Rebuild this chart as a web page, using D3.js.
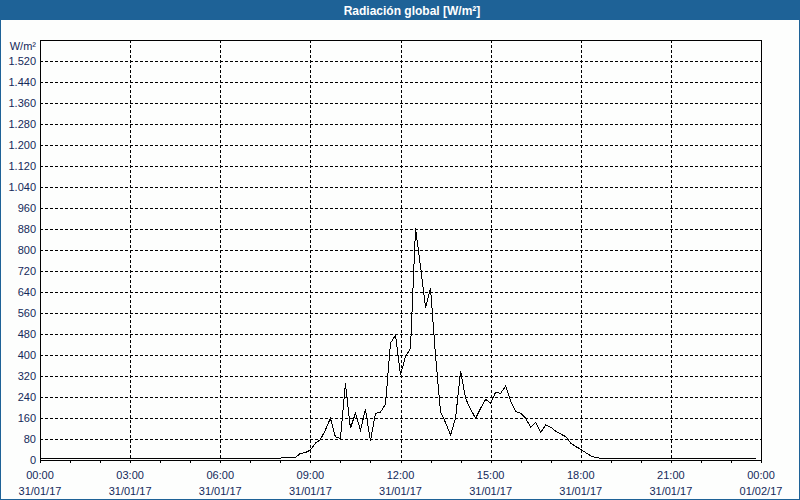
<!DOCTYPE html>
<html><head><meta charset="utf-8">
<script src="https://cdn.jsdelivr.net/npm/d3@7"></script>
<style>
html,body{margin:0;padding:0;background:#fff;}
svg{display:block;}
text{font-family:"Liberation Sans",Arial,sans-serif;}
</style></head>
<body>
<svg id="c" width="800" height="500"></svg>
<script>
// ---- data (10-minute readings, W/m²) ----
const times = ["00:00","08:00","08:10","08:20","08:30","08:40","08:50","09:00","09:10","09:20","09:30","09:40","09:50",
"10:00","10:10","10:20","10:30","10:40","10:50","11:00","11:10","11:20","11:30","11:40","11:50",
"12:00","12:10","12:20","12:30","12:40","12:50","13:00","13:10","13:20","13:30","13:40","13:50",
"14:00","14:10","14:20","14:30","14:40","14:50","15:00","15:10","15:20","15:30","15:40","15:50",
"16:00","16:10","16:20","16:30","16:40","16:50","17:00","17:10","17:20","17:30","17:40","17:50",
"18:00","18:10","18:20","18:30","18:40","23:50"];
const values = [7,7,10,10,10,25,28,38,64,78,114,159,88,
82,292,121,178,114,192,72,178,182,212,445,476,
324,394,425,883,737,580,654,396,183,142,95,160,
340,235,193,159,197,231,216,258,254,282,224,184,
178,159,125,144,105,133,125,110,99,89,64,51,
41,28,16,9,7,7];
const xTickTimes = ["00:00","03:00","06:00","09:00","12:00","15:00","18:00","21:00","00:00"];
const xTickDates = ["31/01/17","31/01/17","31/01/17","31/01/17","31/01/17","31/01/17","31/01/17","31/01/17","01/02/17"];
const yTicks = [0,80,160,240,320,400,480,560,640,720,800,880,960,1040,1120,1200,1280,1360,1440,1520];
const title = "Radiación global [W/m²]";
const unit = "W/m²";

const toMin = s => { const [h,m]=s.split(":").map(Number); return h*60+m; };
const data = times.map((t,i)=>({m:toMin(t), v:values[i]}));

const svg = d3.select("#c");
const L=40, R=761, T=40, B=460;
const x = d3.scaleLinear().domain([0,1440]).range([L,R]);
const y = d3.scaleLinear().domain([0,1600]).range([B,T]);
const navy = "#14295a";

// outer frame + title bar
svg.append("rect").attr("x",0.5).attr("y",0.5).attr("width",799).attr("height",499)
  .attr("fill","#fdfefd").attr("stroke","#1e6297");
svg.append("rect").attr("x",0).attr("y",0).attr("width",800).attr("height",20).attr("fill","#1e6297");
svg.append("text").attr("x",412).attr("y",14.5).attr("text-anchor","middle")
  .attr("fill","#fff").attr("font-weight","bold").attr("font-size","12px").text(title);

// grid
const g = svg.append("g");
g.selectAll("line.hg").data(yTicks.filter(d=>d>0)).join("line")
  .attr("x1",L).attr("x2",R).attr("y1",d=>Math.round(y(d))+0.5).attr("y2",d=>Math.round(y(d))+0.5)
  .attr("stroke","#000").attr("stroke-dasharray","3,2").attr("shape-rendering","crispEdges");
const vIdx = xTickTimes.map((t,i)=>i*180);
g.selectAll("line.vg").data(vIdx.slice(1,-1)).join("line")
  .attr("x1",d=>Math.round(x(d))+0.5).attr("x2",d=>Math.round(x(d))+0.5).attr("y1",T).attr("y2",B)
  .attr("stroke","#000").attr("stroke-dasharray","3,2").attr("shape-rendering","crispEdges");

// minor hour ticks below axis
g.selectAll("line.mt").data(d3.range(0,1441,60)).join("line")
  .attr("x1",d=>Math.round(x(d))+0.5).attr("x2",d=>Math.round(x(d))+0.5).attr("y1",B).attr("y2",B+3)
  .attr("stroke","#000").attr("shape-rendering","crispEdges");

// plot frame
svg.append("rect").attr("x",L+0.5).attr("y",T+0.5).attr("width",R-L).attr("height",B-T)
  .attr("fill","none").attr("stroke","#000").attr("shape-rendering","crispEdges");

// y labels
const fmt = d3.formatLocale({decimal:",",thousands:".",grouping:[3],currency:["",""]}).format(",d");
svg.append("g").selectAll("text").data(yTicks).join("text")
  .attr("x",36).attr("y",d=>y(d)).attr("dy","0.35em").attr("text-anchor","end")
  .attr("font-size","11px").attr("fill",navy).text(d=>fmt(d));
svg.append("text").attr("x",36).attr("y",46).attr("dy","0.35em").attr("text-anchor","end")
  .attr("font-size","11px").attr("fill",navy).text(unit);

// x labels
const xl = svg.append("g");
xl.selectAll("text.t").data(xTickTimes).join("text")
  .attr("x",(d,i)=>x(i*180)).attr("y",479).attr("text-anchor","middle")
  .attr("font-size","11px").attr("fill",navy).text(d=>d);
xl.selectAll("text.d").data(xTickDates).join("text")
  .attr("x",(d,i)=>x(i*180)).attr("y",495).attr("text-anchor","middle")
  .attr("font-size","11px").attr("fill",navy).text(d=>d);

// data line
const line = d3.line().x(d=>x(d.m)).y(d=>y(d.v));
svg.append("path").datum(data).attr("d",line).attr("fill","none")
  .attr("stroke","#000").attr("stroke-width",1).attr("shape-rendering","crispEdges");
</script>
</body></html>
